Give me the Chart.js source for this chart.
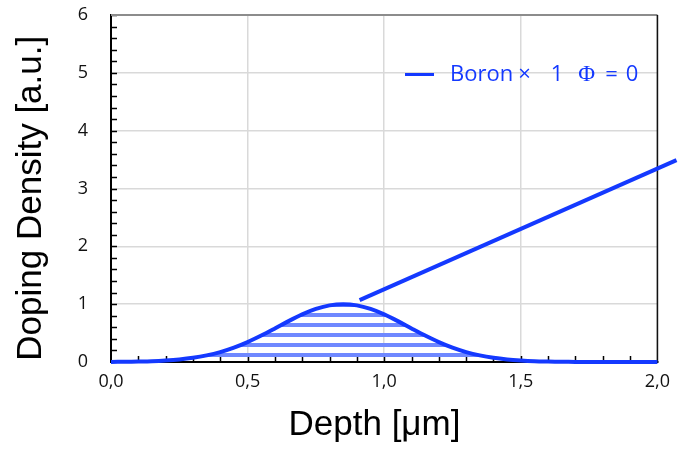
<!DOCTYPE html>
<html>
<head>
<meta charset="utf-8">
<script src="https://cdn.jsdelivr.net/npm/chart.js@4"></script>
<style>
  body { margin: 0; background: #fff; }
  #wrap { position: relative; width: 679px; height: 452px; }
  #legend {
    position: absolute; left: 405px; top: 57px;
    font-family: "Open Sans", sans-serif; font-size: 22px; color: #1439ff;
    white-space: nowrap;
  }
  #legend span { display: inline-block; }
  #legend .swatch {
    width: 29px; height: 3px; background: #1439ff;
    vertical-align: middle; margin-right: 16px; position: relative; top: -1px;
  }
  #legend .phi { font-family: "Liberation Serif", serif; font-size: 23px; }
</style>
</head>
<body>
<div id="wrap">
  <canvas id="myChart" width="679" height="452"></canvas>
  <div id="legend"><span class="swatch"></span><span>Boron</span><span style="margin-left:5px">×</span><span style="margin-left:20px">1</span><span class="phi" style="margin-left:15px">Φ</span><span style="margin-left:10px">=</span><span style="margin-left:8px">0</span></div>
</div>
<script>
// depth in um and boron profile
var depth = [0, 0.05, 0.1, 0.15, 0.2, 0.25, 0.3, 0.35, 0.4, 0.45, 0.5, 0.55, 0.6, 0.65, 0.7, 0.75, 0.8, 0.85,
  0.9, 0.95, 1.0, 1.05, 1.1, 1.15, 1.2, 1.25, 1.3, 1.35, 1.4, 1.45, 1.5, 1.55, 1.6, 1.65, 1.7, 1.8, 1.9, 2.0];
var boron = [0.002, 0.004, 0.008, 0.014, 0.026, 0.044, 0.072, 0.114, 0.172, 0.249, 0.345, 0.458, 0.581, 0.707, 0.823, 0.917, 0.979, 1.0,
  0.979, 0.917, 0.823, 0.707, 0.581, 0.458, 0.345, 0.249, 0.172, 0.114, 0.072, 0.044, 0.026, 0.014, 0.008, 0.004, 0.002, 0, 0, 0];
// the straight pointer line
var pointerX = [0.91, 2.07];
var pointerY = [1.07, 3.49];
// minor tick marks
var xMinorTicks = [0.1, 0.2, 0.3, 0.4, 0.5, 0.6, 0.7, 0.8, 0.9, 1.0, 1.1, 1.2, 1.3, 1.4, 1.5, 1.6, 1.7, 1.8, 1.9];
var yMinorTicks = [0.2, 0.4, 0.6, 0.8, 1, 1.2, 1.4, 1.6, 1.8, 2, 2.2, 2.4, 2.6, 2.8, 3, 3.2, 3.4, 3.6, 3.8, 4,
  4.2, 4.4, 4.6, 4.8, 5, 5.2, 5.4, 5.6, 5.8, 6];

var blue = '#1439ff';

// horizontal stripes for the area under the curve
var pat = document.createElement('canvas');
pat.width = 10; pat.height = 10;
var pctx = pat.getContext('2d');
pctx.fillStyle = '#6f88ff';
pctx.fillRect(0, 3, 10, 4);

var profilePts = depth.map(function (d, i) { return { x: d, y: boron[i] }; });
var pointerPts = pointerX.map(function (d, i) { return { x: d, y: pointerY[i] }; });

const frameTicks = {
  id: 'frameTicks',
  beforeDatasetsDraw(chart) {
    const { ctx, chartArea: a, scales: { x, y } } = chart;
    ctx.save();
    ctx.strokeStyle = '#000';
    ctx.lineWidth = 1.5;
    ctx.beginPath();
    xMinorTicks.forEach(function (v) {
      var px = Math.round(x.getPixelForValue(v)) + 0.5;
      ctx.moveTo(px, a.bottom); ctx.lineTo(px, a.bottom - 6);
    });
    yMinorTicks.forEach(function (v) {
      var py = Math.round(y.getPixelForValue(v)) + 0.5;
      ctx.moveTo(a.left, py); ctx.lineTo(a.left + 6, py);
    });
    ctx.stroke();
    ctx.strokeStyle = '#8c8c8c';
    ctx.lineWidth = 2;
    ctx.beginPath();
    ctx.moveTo(a.left, a.top); ctx.lineTo(a.right, a.top);
    ctx.stroke();
    ctx.strokeStyle = '#111';
    ctx.lineWidth = 1.5;
    ctx.beginPath();
    ctx.moveTo(a.right, a.top); ctx.lineTo(a.right, a.bottom);
    ctx.stroke();
    ctx.restore();
  }
};

var ctx = document.getElementById('myChart');
var myChart = new Chart(ctx, {
  type: 'line',
  data: {
    datasets: [{
      label: 'Boron × 1  Φ = 0',
      data: profilePts,
      borderColor: blue,
      borderWidth: 4,
      backgroundColor: ctx.getContext('2d').createPattern(pat, 'repeat'),
      fill: 'origin',
      pointRadius: 0,
      tension: 0.3,
      clip: false
    }, {
      label: 'pointer',
      data: pointerPts,
      borderColor: blue,
      borderWidth: 4,
      pointRadius: 0,
      fill: false,
      clip: false
    }]
  },
  options: {
    responsive: false,
    animation: false,
    layout: { padding: { left: 0, right: 20, top: 15, bottom: 0 } },
    plugins: {
      legend: { display: false },
      tooltip: { enabled: false }
    },
    scales: {
      x: {
        type: 'linear',
        min: 0,
        max: 2,
        afterFit: function (s) { s.height = 90; },
        border: { color: '#000', width: 2 },
        grid: { color: '#d9d9d9', lineWidth: 1.5, drawTicks: false },
        ticks: {
          stepSize: 0.5,
          padding: 9,
          color: '#111',
          font: { family: 'Open Sans', size: 18 },
          callback: function (v) { return v.toFixed(1).replace('.', ','); }
        },
        title: {
          display: true,
          text: 'Depth [μm]  ',
          color: '#000',
          font: { family: 'Liberation Sans', size: 35 },
          padding: { top: 0, bottom: 6 }
        }
      },
      y: {
        min: 0,
        max: 6,
        afterFit: function (s) { s.width = 111; s.paddingTop = 0; s.paddingBottom = 0; },
        border: { color: '#000', width: 2 },
        grid: { color: '#d9d9d9', lineWidth: 1.5, drawTicks: false },
        ticks: {
          stepSize: 1,
          padding: 23,
          color: '#111',
          font: { family: 'Open Sans', size: 18 }
        },
        title: {
          display: true,
          text: 'Doping Density [a.u.]  ',
          color: '#000',
          font: { family: 'Liberation Sans', size: 35 },
          padding: { top: 10, bottom: 0 }
        }
      }
    }
  },
  plugins: [frameTicks]
});
</script>
</body>
</html>
